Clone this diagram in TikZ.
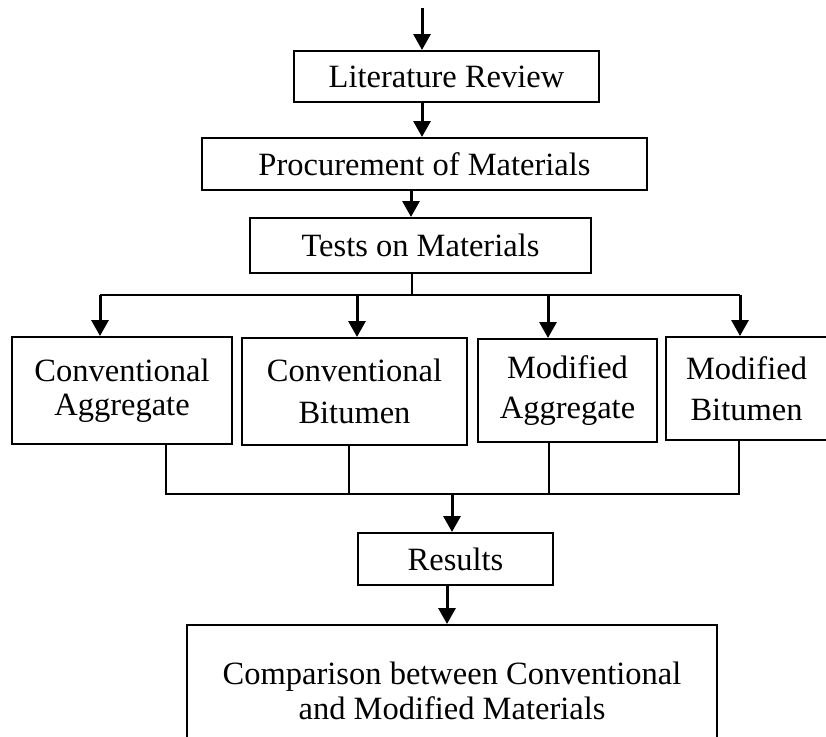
\documentclass[tikz,border=0pt]{standalone}
\usepackage{fontspec}
\setmainfont{Liberation Serif}
\usetikzlibrary{arrows.meta}
\tikzset{
  box/.style={draw, line width=2pt, rectangle, inner sep=0pt, align=center,
    font=\fontsize{32.5}{35}\selectfont},
  arr/.style={line width=3pt, -{Triangle[width=17pt,length=16pt]}},
  bus/.style={line width=2pt},
  thin/.style={line width=1.6pt}
}
\begin{document}
\begin{tikzpicture}[x=1pt,y=-1pt]
\useasboundingbox (0,0) rectangle (826,736);
% boxes
\node[box, minimum width=305, minimum height=51] (lit) at (446.5,76.5) {Literature Review};
\node[box, minimum width=445, minimum height=52] (proc) at (424.5,164) {Procurement of Materials};
\node[box, minimum width=341, minimum height=55] (tests) at (420.5,245.5) {Tests on Materials};
\node[box, minimum width=220, minimum height=107] (b1) at (122,390.5) {Conventional\\[-1pt]Aggregate};
\node[box, minimum width=225, minimum height=107] (b2) at (354.5,391.5) {Conventional\\[7pt]Bitumen};
\node[box, minimum width=179, minimum height=103] (b3) at (567.5,390.5) {Modified\\[5pt]Aggregate};
\node[box, minimum width=161, minimum height=103] (b4) at (746.5,388.5) {Modified\\[6pt]Bitumen};
\node[box, minimum width=195, minimum height=52] (res) at (455.5,559) {Results};
\node[box, minimum width=530, minimum height=132] (cmp) at (452,691) {Comparison between Conventional\\and Modified Materials};
% helper coordinates
\coordinate (start) at (422,8);
\coordinate (x2) at (411,0);
\coordinate (busT) at (412,295);
\coordinate (t1) at (100,295);
\coordinate (t2) at (357,295);
\coordinate (t3) at (548,295);
\coordinate (t4) at (740,295);
\coordinate (u1) at (166,494);
\coordinate (u2) at (349,494);
\coordinate (u3) at (549,494);
\coordinate (u4) at (739,494);
\coordinate (m) at (452,494);
\coordinate (x5) at (447,0);
% connectors
\draw[arr] (start) -- (start |- lit.north);
\draw[arr] (lit.south -| start) -- (proc.north -| start);
\draw[arr] (proc.south -| x2) -- (tests.north -| x2);
\draw[bus] (tests.south -| busT) -- (busT);
\draw[bus] (t1) -- (t4);
\draw[arr] (t1) -- (t1 |- b1.north);
\draw[arr] (t2) -- (t2 |- b2.north);
\draw[arr] (t3) -- (t3 |- b3.north);
\draw[arr] (t4) -- (t4 |- b4.north);
\draw[thin] (b1.south -| u1) -- (u1) -- (u4) -- (b4.south -| u4);
\draw[thin] (b2.south -| u2) -- (u2);
\draw[thin] (b3.south -| u3) -- (u3);
\draw[arr] (m) -- (res.north -| m);
\draw[arr] (res.south -| x5) -- (cmp.north -| x5);
\end{tikzpicture}
\end{document}
